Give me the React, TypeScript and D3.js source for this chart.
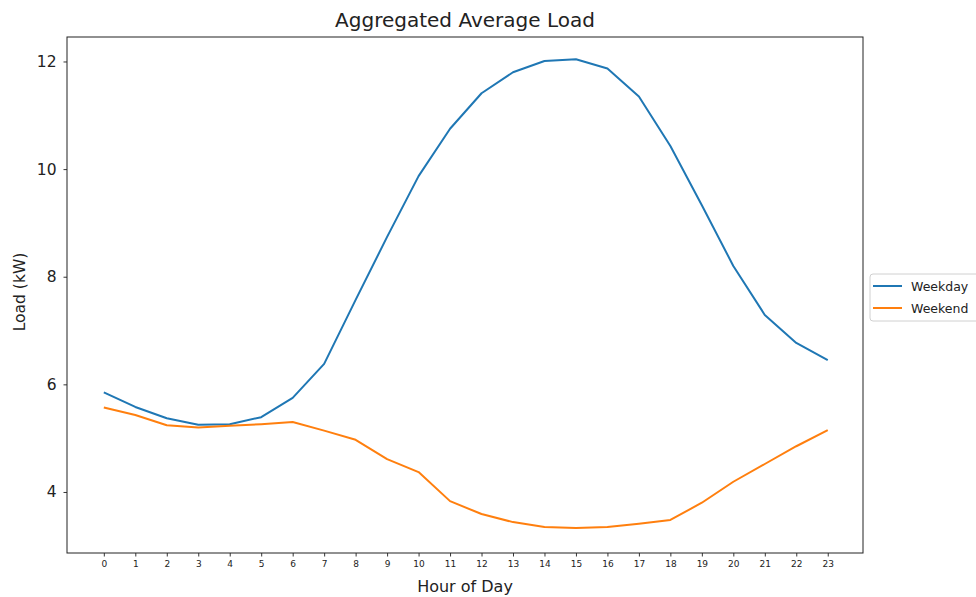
import React, { useEffect, useRef } from 'react'
import * as d3 from 'd3'

const hours = d3.range(0, 24)
const weekday = [5.85, 5.58, 5.37, 5.25, 5.26, 5.39, 5.75, 6.38, 7.57, 8.74, 9.87, 10.75, 11.41, 11.8, 12.01, 12.04, 11.87, 11.35, 10.43, 9.33, 8.2, 7.29, 6.77, 6.45]
const weekend = [5.57, 5.43, 5.24, 5.2, 5.23, 5.26, 5.3, 5.14, 4.97, 4.61, 4.37, 3.83, 3.59, 3.44, 3.35, 3.33, 3.35, 3.41, 3.48, 3.8, 4.19, 4.52, 4.85, 5.15]
const yTicks = [4, 6, 8, 10, 12]
const seriesNames = ['Weekday', 'Weekend']
const colors = ['#1f77b4', '#ff7f0e']

const W = 976
const H = 597
const FONT = '"DejaVu Sans", sans-serif'

const App = () => {
  const svgRef = useRef<SVGSVGElement>(null)

  useEffect(() => {
    const svg = d3.select(svgRef.current)
    svg.selectAll('*').remove()

    const left = 67, right = 863, top = 37, bottom = 553

    const x = d3.scaleLinear().domain([-1.17, 24.12]).range([left, right])
    const y = d3.scaleLinear().domain([2.866, 12.455]).range([bottom, top])

    // x axis
    const xAxis = d3.axisBottom(x).tickValues(hours).tickSize(3.5).tickPadding(4).tickFormat(d3.format('d'))
    const gx = svg.append('g').attr('transform', `translate(0,${bottom})`).call(xAxis)
    gx.select('.domain').remove()
    gx.selectAll('line').attr('stroke', '#000').attr('stroke-width', 0.8)
    gx.selectAll('text').attr('font-family', FONT).attr('font-size', 9).attr('fill', '#222')

    // y axis
    const yAxis = d3.axisLeft(y).tickValues(yTicks).tickSize(3.5).tickPadding(7)
    const gy = svg.append('g').attr('transform', `translate(${left},0)`).call(yAxis)
    gy.select('.domain').remove()
    gy.selectAll('line').attr('stroke', '#000').attr('stroke-width', 0.8)
    gy.selectAll('text').attr('font-family', FONT).attr('font-size', 15.5).attr('fill', '#222')

    const line = d3.line<number>().x((d, i) => x(hours[i])).y(d => y(d))

    ;[weekday, weekend].forEach((s, i) => {
      svg.append('path')
        .datum(s)
        .attr('d', line)
        .attr('fill', 'none')
        .attr('stroke', colors[i])
        .attr('stroke-width', 2)
        .attr('stroke-linejoin', 'round')
    })

    // frame
    svg.append('rect')
      .attr('x', left).attr('y', top)
      .attr('width', right - left).attr('height', bottom - top)
      .attr('fill', 'none').attr('stroke', '#222').attr('stroke-width', 1)

    // title and labels
    svg.append('text')
      .attr('x', (left + right) / 2).attr('y', 27)
      .attr('text-anchor', 'middle')
      .attr('font-family', FONT).attr('font-size', 20).attr('fill', '#222')
      .text('Aggregated Average Load')

    svg.append('text')
      .attr('x', (left + right) / 2).attr('y', 592)
      .attr('text-anchor', 'middle')
      .attr('font-family', FONT).attr('font-size', 16).attr('fill', '#222')
      .text('Hour of Day')

    svg.append('text')
      .attr('transform', `translate(25,292) rotate(-90)`)
      .attr('text-anchor', 'middle')
      .attr('font-family', FONT).attr('font-size', 15.5).attr('fill', '#222')
      .text('Load (kW)')

    // legend
    const lg = svg.append('g').attr('transform', 'translate(870,274)')
    lg.append('rect')
      .attr('x', 0).attr('y', 0).attr('width', 112).attr('height', 47)
      .attr('rx', 3)
      .attr('fill', '#fff').attr('stroke', '#d0d0d0')
    seriesNames.forEach((name, i) => {
      const ly = 12 + i * 22
      lg.append('line')
        .attr('x1', 3).attr('x2', 32).attr('y1', ly).attr('y2', ly)
        .attr('stroke', colors[i]).attr('stroke-width', 2)
      lg.append('text')
        .attr('x', 41).attr('y', ly + 4.5)
        .attr('font-family', FONT).attr('font-size', 12.5).attr('fill', '#222')
        .text(name)
    })
  }, [])

  return (
    <svg
      ref={svgRef}
      width={W}
      height={H}
      style={{ position: 'absolute', left: 0, top: 0, background: '#fff' }}
    />
  )
}

export default App
